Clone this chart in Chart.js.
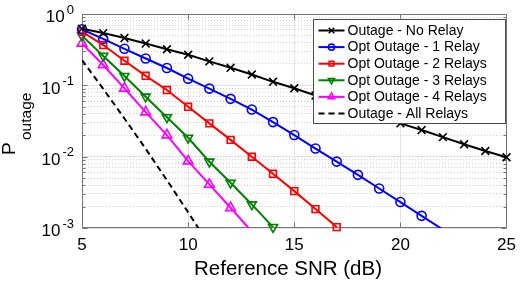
<!DOCTYPE html>
<html>
<head>
<meta charset="utf-8">
<script src="https://cdn.jsdelivr.net/npm/chart.js@4"></script>
<style>
  html, body { margin: 0; padding: 0; background: #fff; }
  canvas { display: block; }
</style>
</head>
<body>
<canvas id="outage" width="523" height="282"></canvas>
<script>
// reference SNR in dB, one point per dB
const snrDb = [5, 6, 7, 8, 9, 10, 11, 12, 13, 14, 15, 16, 17, 18, 19, 20, 21, 22, 23, 24, 25];

// outage probabilities (series stop once they drop below 1e-3)
const noRelay = [0.62, 0.54, 0.46, 0.385, 0.32, 0.268, 0.217, 0.176, 0.142, 0.112, 0.091,
  0.072, 0.0575, 0.0457, 0.0367, 0.0293, 0.0236, 0.0188, 0.0149, 0.012, 0.0098];
const oneRelay = [0.61, 0.448, 0.325, 0.238, 0.175, 0.124, 0.09, 0.0646, 0.0458, 0.0305,
  0.0201, 0.013, 0.00853, 0.00556, 0.00358, 0.00231, 0.00148, 0.00095];
const twoRelays = [0.565, 0.367, 0.221, 0.136, 0.0859, 0.05, 0.0293, 0.0172, 0.00997,
  0.00575, 0.00329, 0.00184, 0.00103];
const threeRelays = [0.496, 0.258, 0.135, 0.0692, 0.0356, 0.0184, 0.00849, 0.0043, 0.00214, 0.00103];
const fourRelays = [0.388, 0.193, 0.0908, 0.0422, 0.0201, 0.00867, 0.00408, 0.00192, 0.00089];
const allRelays = [0.2265, 0.0891, 0.0343, 0.0129, 0.00468, 0.00166, 0.000575];

const seriesNames = ["Outage - No Relay", "Opt Outage - 1 Relay", "Opt Outage - 2 Relays",
  "Opt Outage - 3 Relays", "Opt Outage - 4 Relays", "Outage - All Relays"];

const xTicks = [5, 10, 15, 20, 25];
const yDecades = [1, 0.1, 0.01, 0.001];
const yExponents = ["0", "-1", "-2", "-3"];

const FONT = "'Liberation Sans', Arial, Helvetica, sans-serif";
const Y_MIN = 0.001;

const styles = [
  { color: "#000000", marker: "crossRot", r: 5.5, rot: 0 },
  { color: "#0000ff", marker: "circle", r: 4.5, rot: 0 },
  { color: "#ff0000", marker: "rect", r: 4.8, rot: 0 },
  { color: "#008000", marker: "triangle", r: 5.2, rot: 180 },
  { color: "#ff00ff", marker: "triangle", r: 5.6, rot: 0 },
  { color: "#000000", marker: false, r: 0, rot: 0, dash: [6, 4] },
];
const seriesValues = [noRelay, oneRelay, twoRelays, threeRelays, fourRelays, allRelays];

function points(values) {
  return values.map((v, i) => ({ x: snrDb[i], y: v }));
}

function isDecade(v) {
  const l = Math.log10(v);
  return Math.abs(l - Math.round(l)) < 1e-6;
}

// lines first (clipped to the axes), then the markers on top (not clipped)
const datasets = [];
seriesValues.forEach((vals, i) => {
  const s = styles[i];
  datasets.push({
    label: seriesNames[i],
    data: points(vals),
    borderColor: s.color,
    borderWidth: 2,
    borderDash: s.dash || [],
    pointRadius: 0,
    fill: false,
    tension: 0,
  });
});
seriesValues.forEach((vals, i) => {
  const s = styles[i];
  if (!s.marker) return;
  datasets.push({
    label: seriesNames[i] + " markers",
    data: points(vals),
    showLine: false,
    clip: false,
    pointStyle: s.marker,
    pointRotation: s.rot,
    pointRadius: (c) => (c.raw && c.raw.y < Y_MIN ? 0 : s.r),
    pointBorderColor: s.color,
    pointBackgroundColor: "rgba(0,0,0,0)",
    pointBorderWidth: 1.6,
  });
});

// box around the axes with inward tick marks
const framePlugin = {
  id: "frame",
  beforeDatasetsDraw(chart) {
    const { ctx, chartArea: a, scales } = chart;
    const L = Math.round(a.left) + 0.5, R = Math.round(a.right) - 0.5;
    const T = Math.round(a.top) + 0.5, B = Math.round(a.bottom) - 0.5;
    ctx.save();
    ctx.strokeStyle = "#767676";
    ctx.lineWidth = 1;
    ctx.beginPath();
    xTicks.slice(1, -1).forEach((v) => {
      const px = Math.round(scales.x.getPixelForValue(v)) + 0.5;
      ctx.moveTo(px, B); ctx.lineTo(px, B - 5);
      ctx.moveTo(px, T); ctx.lineTo(px, T + 5);
    });
    scales.y.ticks.forEach((t) => {
      const py = Math.round(scales.y.getPixelForValue(t.value)) + 0.5;
      const len = isDecade(t.value) ? 5 : 3;
      ctx.moveTo(L, py); ctx.lineTo(L + len, py);
      ctx.moveTo(R, py); ctx.lineTo(R - len, py);
    });
    ctx.stroke();
    ctx.strokeRect(L, T, R - L, B - T);
    ctx.restore();
  },
};

// legend box inside the axes, top right
const legendPlugin = {
  id: "boxLegend",
  afterDatasetsDraw(chart) {
    const { ctx, chartArea: a } = chart;
    const right = Math.round(a.right) - 1.5, top = Math.round(a.top) + 5.5;
    const w = 192, h = 104;
    const left = right - w;
    ctx.save();
    ctx.fillStyle = "#ffffff";
    ctx.fillRect(left, top, w, h);
    ctx.strokeStyle = "#4d4d4d";
    ctx.lineWidth = 1;
    ctx.strokeRect(left, top, w, h);
    ctx.font = "14px " + FONT;
    ctx.textBaseline = "middle";
    seriesNames.forEach((name, i) => {
      const s = styles[i];
      const yy = top + 11 + i * 16.6;
      ctx.strokeStyle = s.color;
      ctx.lineWidth = 2;
      ctx.setLineDash(s.dash || []);
      ctx.beginPath();
      ctx.moveTo(left + 5, yy);
      ctx.lineTo(left + 31, yy);
      ctx.stroke();
      ctx.setLineDash([]);
      if (s.marker) {
        ctx.lineWidth = 1.5;
        ctx.fillStyle = "rgba(0,0,0,0)";
        Chart.helpers.drawPoint(ctx, {
          pointStyle: s.marker, rotation: s.rot, radius: s.r * 0.7, borderWidth: 1.5,
        }, left + 18, yy);
      }
      ctx.fillStyle = "#000000";
      ctx.fillText(name, left + 34, yy + 0.5);
    });
    ctx.restore();
  },
};

// y tick labels as 10^k, axis titles
const labelPlugin = {
  id: "labels",
  afterDraw(chart) {
    const { ctx, scales } = chart;
    ctx.save();
    ctx.fillStyle = "#000000";
    ctx.textBaseline = "middle";
    yDecades.forEach((v, i) => {
      const py = scales.y.getPixelForValue(v);
      ctx.font = "13px " + FONT;
      const ew = ctx.measureText(yExponents[i]).width;
      ctx.textAlign = "right";
      ctx.fillText(yExponents[i], 74, py - 4);
      ctx.font = "17px " + FONT;
      ctx.fillText("10", 74 - ew - 2, py + 3.5);
    });

    ctx.textAlign = "center";
    ctx.font = "20.5px " + FONT;
    ctx.fillText("Reference SNR (dB)", 288, 269);

    ctx.translate(15, 149);
    ctx.rotate(-Math.PI / 2);
    ctx.textAlign = "left";
    ctx.textBaseline = "alphabetic";
    ctx.font = "19px " + FONT;
    ctx.fillText("P", -6, 0);
    ctx.font = "15.5px " + FONT;
    ctx.fillText("outage", 9, 15.5);
    ctx.restore();
  },
};

new Chart(document.getElementById("outage").getContext("2d"), {
  type: "line",
  data: { datasets },
  options: {
    responsive: false,
    animation: false,
    events: [],
    layout: { padding: { left: 0, right: 12, top: 14, bottom: 0 } },
    plugins: { legend: { display: false }, tooltip: { enabled: false } },
    scales: {
      x: {
        type: "linear",
        min: 5,
        max: 25,
        afterBuildTicks: (scale) => { scale.ticks = xTicks.map((v) => ({ value: v })); },
        afterFit: (scale) => { scale.height = 54; },
        ticks: { color: "#000000", font: { family: FONT, size: 17 }, padding: 7, maxRotation: 0 },
        grid: { color: "#e3e3e3", drawTicks: false },
        border: { display: false },
      },
      y: {
        type: "logarithmic",
        min: Y_MIN,
        max: 1,
        afterBuildTicks: (scale) => {
          const t = [];
          [0.001, 0.01, 0.1].forEach((d) => {
            for (let k = 1; k <= 9; k++) t.push({ value: d * k, major: k === 1 });
          });
          t.push({ value: 1, major: true });
          scale.ticks = t;
        },
        afterFit: (scale) => { scale.width = 82; },
        ticks: { display: false },
        grid: {
          drawTicks: false,
          color: (c) => (c.tick && !isDecade(c.tick.value) ? "#cfcfcf" : "#e3e3e3"),
        },
        border: {
          display: false,
          dash: (c) => (c.tick && !isDecade(c.tick.value) ? [1, 2] : []),
        },
      },
    },
  },
  plugins: [framePlugin, legendPlugin, labelPlugin],
});
</script>
</body>
</html>
